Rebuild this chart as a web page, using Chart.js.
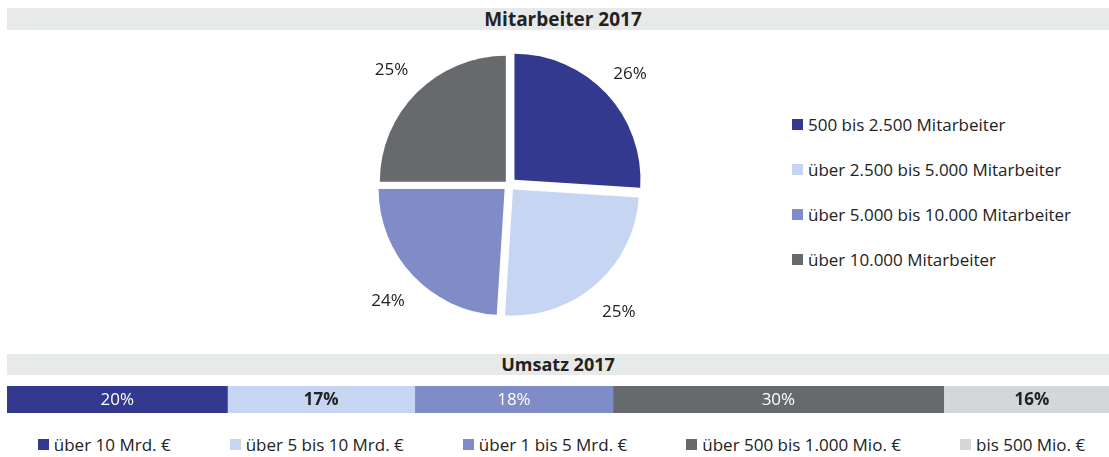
<!DOCTYPE html>
<html lang="de">
<head>
    <meta charset="UTF-8">
    <title>Mitarbeiter und Umsatz 2017</title>
    <script src="https://cdn.jsdelivr.net/npm/chart.js"></script>
    <style>
        body {
            margin: 0;
            width: 1109px;
            height: 457px;
            position: relative;
            overflow: hidden;
            background: #fff;
            font-family: 'Open Sans', sans-serif;
            color: #222;
        }
        .band {
            position: absolute;
            left: 7px;
            width: 1102px;
            background: #e8eae9;
            font-weight: bold;
            font-size: 19px;
            text-align: center;
        }
        #title1 { top: 8px; height: 22px; line-height: 22px; box-sizing: border-box; padding-left: 10px; }
        #title2 { top: 354px; height: 21px; line-height: 21px; font-size: 18px; }
        #pieBox { position: absolute; left: 329px; top: 20px; width: 360px; height: 330px; }
        #barBox { position: absolute; left: 7px; top: 386px; width: 1102px; height: 27px; }
        #pieLegend { position: absolute; left: 792px; top: 113px; font-size: 17px; }
        #pieLegend .item { display: flex; align-items: center; height: 22px; margin-bottom: 23px; }
        #barLegend {
            position: absolute; left: 14px; right: 0; top: 433px; height: 22px;
            display: flex; justify-content: center; gap: 59px; font-size: 17px;
        }
        #barLegend .item { display: flex; align-items: center; }
        .sq { width: 11px; height: 11px; margin-right: 5px; flex: none; }
    </style>
</head>
<body>

    <div class="band" id="title1">Mitarbeiter 2017</div>
    <div id="pieBox"><canvas id="pieChart"></canvas></div>
    <div id="pieLegend"></div>

    <div class="band" id="title2">Umsatz 2017</div>
    <div id="barBox"><canvas id="barChart"></canvas></div>
    <div id="barLegend"></div>

    <script>
        // Mitarbeiter 2017
        const staffLabels = ["500 bis 2.500 Mitarbeiter", "über 2.500 bis 5.000 Mitarbeiter", "über 5.000 bis 10.000 Mitarbeiter", "über 10.000 Mitarbeiter"];
        const staffValues = [26, 25, 24, 25];
        const staffColors = ["#32398e", "#c5d5f2", "#7f8cc8", "#666a6c"];

        // Umsatz 2017
        const salesLabels = ["über 10 Mrd. €", "über 5 bis 10 Mrd. €", "über 1 bis 5 Mrd. €", "über 500 bis 1.000 Mio. €", "bis 500 Mio. €"];
        const salesValues = [20, 17, 18, 30, 16];
        const salesColors = ["#32398e", "#c5d5f2", "#7f8cc8", "#666a6c", "#d3d7da"];
        const salesTextColors = ["#fff", "#222", "#fff", "#fff", "#222"];

        function buildLegend(id, labels, colors) {
            const box = document.getElementById(id);
            labels.forEach((txt, i) => {
                const item = document.createElement("div");
                item.className = "item";
                item.innerHTML = '<span class="sq" style="background:' + colors[i] + '"></span>' + txt;
                box.appendChild(item);
            });
        }
        buildLegend("pieLegend", staffLabels, staffColors);
        buildLegend("barLegend", salesLabels, salesColors);

        // percent labels outside the pie slices
        const pieLabelPlugin = {
            id: "pieLabelPlugin",
            afterDatasetsDraw(chart) {
                const ctx = chart.ctx;
                const meta = chart.getDatasetMeta(0);
                ctx.save();
                ctx.font = '17px "Open Sans"';
                ctx.fillStyle = "#222";
                ctx.textAlign = "center";
                ctx.textBaseline = "middle";
                meta.data.forEach((arc, i) => {
                    const mid = (arc.startAngle + arc.endAngle) / 2;
                    const r = arc.outerRadius + 40;
                    ctx.fillText(staffValues[i] + "%", arc.x + Math.cos(mid) * r, arc.y + 3 + Math.sin(mid) * r);
                });
                ctx.restore();
            }
        };

        // percent labels inside the stacked bar
        const barLabelPlugin = {
            id: "barLabelPlugin",
            afterDatasetsDraw(chart) {
                const ctx = chart.ctx;
                ctx.save();
                ctx.textAlign = "center";
                ctx.textBaseline = "middle";
                chart.data.datasets.forEach((ds, i) => {
                    const bar = chart.getDatasetMeta(i).data[0];
                    const dark = salesTextColors[i] !== "#fff";
                    ctx.font = (dark ? "bold " : "") + '17px "Open Sans"';
                    ctx.fillStyle = salesTextColors[i];
                    ctx.fillText(ds.data[0] + "%", (bar.x + bar.base) / 2, bar.y + 1);
                });
                ctx.restore();
            }
        };

        new Chart(document.getElementById("pieChart"), {
            type: "pie",
            data: {
                labels: staffLabels,
                datasets: [{
                    data: staffValues,
                    backgroundColor: staffColors,
                    borderWidth: 0,
                    // Chart.js draws a quarter of this value as the outward shift
                    offset: [30, 24, 24, 18],
                    radius: 126
                }]
            },
            options: {
                responsive: true,
                maintainAspectRatio: false,
                animation: false,
                events: [],
                plugins: { legend: { display: false }, tooltip: { enabled: false } }
            },
            plugins: [pieLabelPlugin]
        });

        new Chart(document.getElementById("barChart"), {
            type: "bar",
            data: {
                labels: ["Umsatz 2017"],
                datasets: salesLabels.map((lbl, i) => ({
                    label: lbl,
                    data: [salesValues[i]],
                    backgroundColor: salesColors[i],
                    borderWidth: 0,
                    barPercentage: 1,
                    categoryPercentage: 1
                }))
            },
            options: {
                indexAxis: "y",
                responsive: true,
                maintainAspectRatio: false,
                animation: false,
                events: [],
                layout: { padding: 0 },
                scales: {
                    x: { stacked: true, min: 0, max: 100, display: false },
                    y: { stacked: true, display: false }
                },
                plugins: { legend: { display: false }, tooltip: { enabled: false } }
            },
            plugins: [barLabelPlugin]
        });
    </script>

</body>
</html>
